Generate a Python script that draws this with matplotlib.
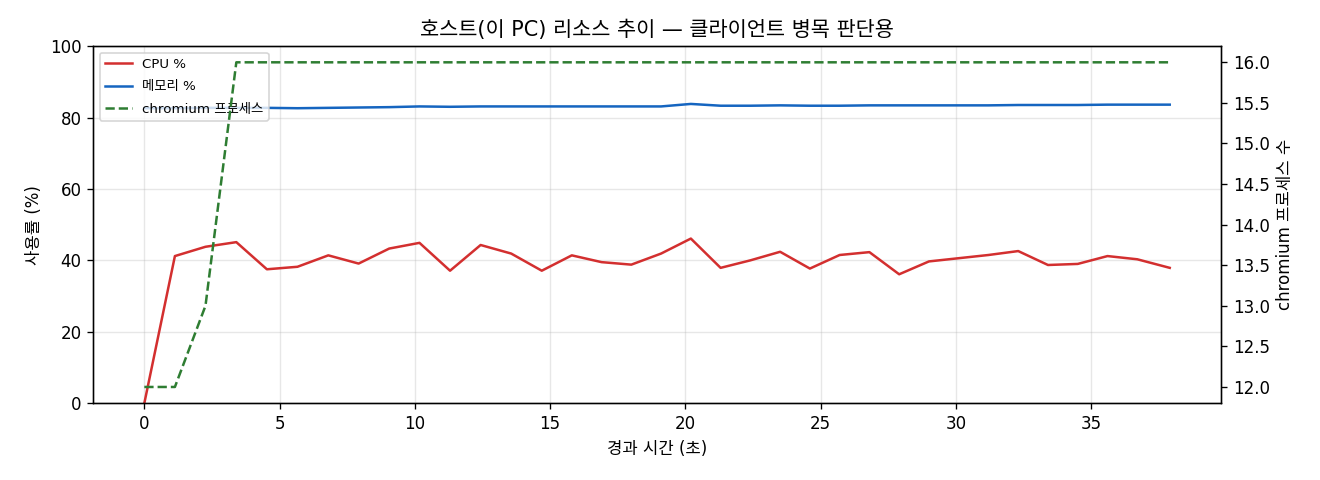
import matplotlib
matplotlib.use("Agg")
import matplotlib.pyplot as plt

plt.rcParams['font.family'] = ['DejaVu Sans', 'Noto Sans CJK KR']
plt.rcParams['axes.unicode_minus'] = False

t = [0, 1.13, 2.26, 3.4, 4.53, 5.66, 6.8, 7.92, 9.05, 10.17, 11.3, 12.43,
     13.56, 14.69, 15.8, 16.9, 18.0, 19.1, 20.2, 21.3, 22.4, 23.5, 24.6,
     25.7, 26.8, 27.9, 29.0, 30.1, 31.2, 32.3, 33.4, 34.5, 35.6, 36.7, 37.9]
cpu = [0, 41.2, 43.8, 45.1, 37.5, 38.2, 41.4, 39.1, 43.3, 44.9, 37.1, 44.3,
       41.9, 37.1, 41.4, 39.5, 38.8, 41.9, 46.1, 37.9, 40.0, 42.4, 37.7,
       41.5, 42.3, 36.1, 39.7, 40.6, 41.5, 42.6, 38.7, 39.0, 41.2, 40.3, 37.9]
mem = [82.6, 82.6, 82.7, 82.7, 82.7, 82.6, 82.7, 82.8, 82.9, 83.1, 83.0, 83.1,
       83.1, 83.1, 83.1, 83.1, 83.1, 83.1, 83.8, 83.3, 83.3, 83.4, 83.3,
       83.3, 83.4, 83.4, 83.4, 83.4, 83.4, 83.5, 83.5, 83.5, 83.6, 83.6, 83.6]
procs = [12, 12, 13, 16, 16, 16, 16, 16, 16, 16, 16, 16,
         16, 16, 16, 16, 16, 16, 16, 16, 16, 16, 16,
         16, 16, 16, 16, 16, 16, 16, 16, 16, 16, 16, 16]

fig, ax = plt.subplots(figsize=(11, 4), dpi=120)
fig.subplots_adjust(left=0.0705, right=0.925, top=0.904, bottom=0.16)

l1, = ax.plot(t, cpu, color='#d32f2f', lw=1.5, label='CPU %')
l2, = ax.plot(t, mem, color='#1565c0', lw=1.5, label='메모리 %')
ax.set_ylim(0, 100)
ax.set_xlabel('경과 시간 (초)', fontsize=10)
ax.set_ylabel('사용률 (%)', fontsize=10)
ax.grid(True, alpha=0.3)
ax.tick_params(labelsize=10)

ax2 = ax.twinx()
l3, = ax2.plot(t, procs, color='#2e7d32', lw=1.5, ls='--', label='chromium 프로세스')
ax2.set_ylabel('chromium 프로세스 수', fontsize=10)
ax2.tick_params(labelsize=10)

ax.legend(handles=[l1, l2, l3], loc='upper left', fontsize=8, labelspacing=0.7)
ax.set_title('호스트(이 PC) 리소스 추이 — 클라이언트 병목 판단용', fontsize=12.5)

fig.savefig('out.png')
